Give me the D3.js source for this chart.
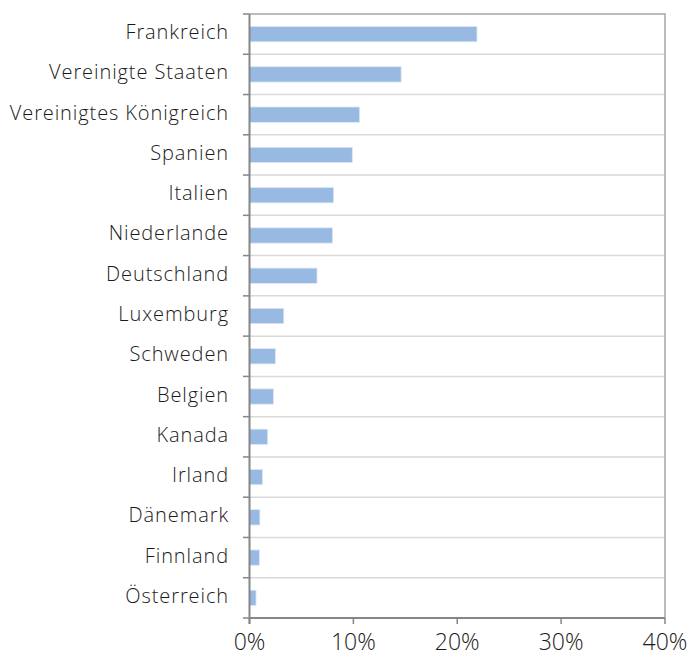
<!DOCTYPE html>
<html>
<head>
    <meta charset='utf-8' />
    <title>Länder</title>
    <script src="https://cdn.jsdelivr.net/npm/d3@7"></script>
    <style>
        body {
            margin: 0;
            padding: 0;
            background: #fff;
        }

        .cat-label {
            font-family: "Open Sans", Lato, sans-serif;
            font-weight: 300;
            font-size: 20px;
            letter-spacing: 0.9px;
            fill: #1a1a1a;
        }

        .tick-label {
            font-family: "Open Sans", Lato, sans-serif;
            font-weight: 300;
            font-size: 23px;
            fill: #1a1a1a;
        }
    </style>
</head>

<body>
    <div id='chart'></div>
    <script>
        var countries = ["Frankreich", "Vereinigte Staaten", "Vereinigtes Königreich", "Spanien", "Italien",
            "Niederlande", "Deutschland", "Luxemburg", "Schweden", "Belgien", "Kanada", "Irland",
            "Dänemark", "Finnland", "Österreich"];
        var shares = [21.9, 14.6, 10.6, 9.9, 8.1, 8.0, 6.5, 3.3, 2.5, 2.3, 1.75, 1.25, 1.0, 0.95, 0.63];
        var xTicks = [0, 10, 20, 30, 40];

        var width = 690, height = 654;
        // Plotbereich (nicht "top" nennen, das ist window.top)
        var pL = 249.5, pR = 665, pT = 14, pB = 618;

        var svg = d3.select('#chart').append('svg')
            .attr('width', width)
            .attr('height', height);

        var x = d3.scaleLinear().domain([0, 40]).range([pL, pR]);
        var y = d3.scaleBand().domain(countries).range([pT, pB]).paddingInner(0).paddingOuter(0);

        // horizontale Trennlinien zwischen den Kategorien
        var bounds = d3.range(1, countries.length).map(function (i) { return pT + i * y.step(); });
        svg.append('g').selectAll('line')
            .data(bounds)
            .enter().append('line')
            .attr('x1', pL).attr('x2', pR)
            .attr('y1', function (d) { return d; })
            .attr('y2', function (d) { return d; })
            .style('stroke', '#d9d9d9')
            .style('stroke-width', 1.5);

        // Rahmen oben und rechts
        svg.append('path')
            .attr('d', 'M' + pL + ',' + pT + 'H' + pR + 'V' + pB)
            .style('fill', 'none')
            .style('stroke', '#a6a6a6')
            .style('stroke-width', 1.5);

        // Balken
        var barH = 15.3;
        svg.append('g').selectAll('rect')
            .data(countries)
            .enter().append('rect')
            .attr('x', x(0))
            .attr('y', function (d) { return y(d) + (y.bandwidth() - barH) / 2; })
            .attr('width', function (d, i) { return x(shares[i]) - x(0); })
            .attr('height', barH)
            .style('fill', '#98b9e1')
            .style('stroke', '#dde8f5')
            .style('stroke-width', 0.8);

        // y-Achse
        var yAxisG = svg.append('g');
        yAxisG.selectAll('line.tk')
            .data(d3.range(0, countries.length + 1))
            .enter().append('line')
            .attr('x1', pL - 6.5).attr('x2', pL)
            .attr('y1', function (i) { return pT + i * y.step(); })
            .attr('y2', function (i) { return pT + i * y.step(); })
            .style('stroke', '#868686')
            .style('stroke-width', 1.5);
        yAxisG.append('line')
            .attr('x1', pL).attr('x2', pL)
            .attr('y1', pT).attr('y2', pB + 6)
            .style('stroke', '#868686')
            .style('stroke-width', 2);
        yAxisG.selectAll('text')
            .data(countries)
            .enter().append('text')
            .attr('class', 'cat-label')
            .attr('x', 229)
            .attr('y', function (d) { return y(d) + y.bandwidth() / 2 + 5; })
            .attr('text-anchor', 'end')
            .text(function (d) { return d; });

        // x-Achse
        var xAxisG = svg.append('g');
        xAxisG.append('line')
            .attr('x1', pL).attr('x2', pR)
            .attr('y1', pB).attr('y2', pB)
            .style('stroke', '#868686')
            .style('stroke-width', 2);
        xAxisG.selectAll('line.tk')
            .data(xTicks)
            .enter().append('line')
            .attr('x1', function (d) { return x(d); })
            .attr('x2', function (d) { return x(d); })
            .attr('y1', pB).attr('y2', pB + 6)
            .style('stroke', '#868686')
            .style('stroke-width', 1.5);
        xAxisG.selectAll('text')
            .data(xTicks)
            .enter().append('text')
            .attr('class', 'tick-label')
            .attr('x', function (d) { return x(d); })
            .attr('y', 650)
            .attr('text-anchor', 'middle')
            .text(function (d) { return d + '%'; });
    </script>
</body>
</html>
